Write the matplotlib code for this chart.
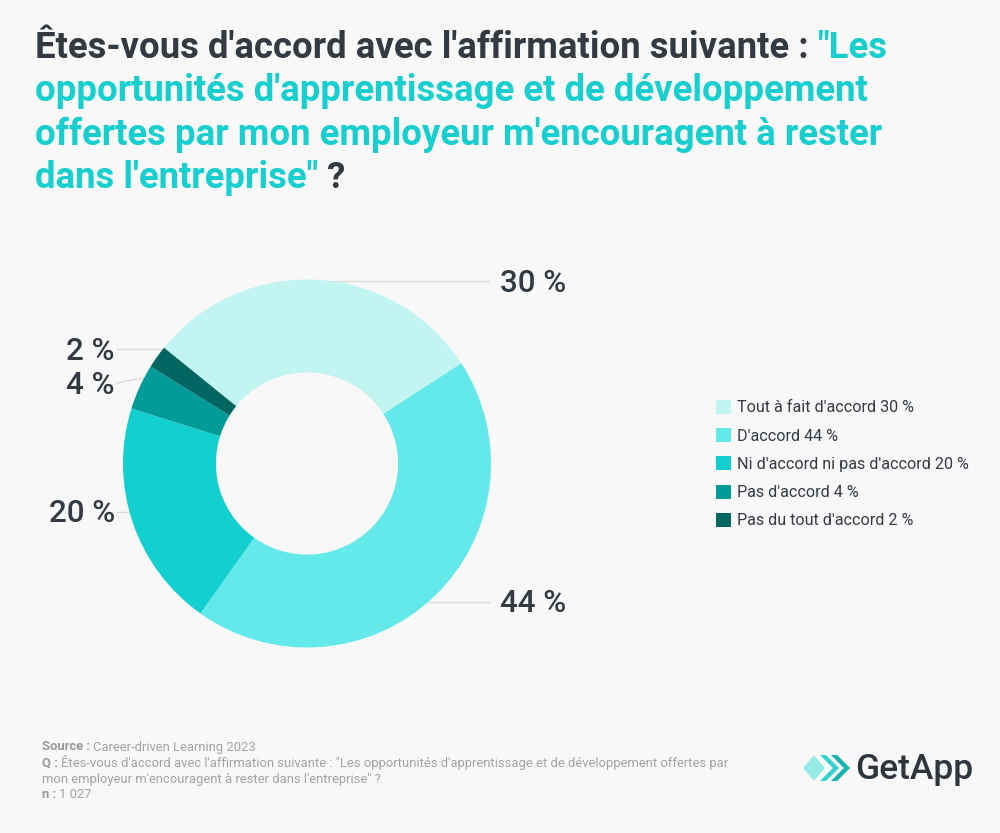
import matplotlib
matplotlib.use("Agg")
import matplotlib.pyplot as plt
from matplotlib.patches import Polygon, Patch
import numpy as np

# ---------------- data ----------------
categories = ["Tout à fait d'accord", "D'accord", "Ni d'accord ni pas d'accord",
              "Pas d'accord", "Pas du tout d'accord"]
values = [30, 44, 20, 4, 2]
colors = ["#C2F4F1", "#63E9E9", "#14CFCF", "#019B98", "#016662"]
value_labels = [f"{v} %" for v in values]
legend_labels = [f"{c} {v} %" for c, v in zip(categories, values)]

title_parts = [
    [("Êtes-vous d'accord avec l'affirmation suivante : ", "dark"), ('"Les', "teal")],
    [("opportunités d'apprentissage et de développement", "teal")],
    [("offertes par mon employeur m'encouragent à rester", "teal")],
    [('dans l\'entreprise"', "teal"), (" ?", "dark")],
]
footer_lines = [
    ("Source : ", "Career-driven Learning 2023"),
    ("Q : ", "Êtes-vous d'accord avec l'affirmation suivante : \"Les opportunités d'apprentissage et de développement offertes par"),
    ("", "mon employeur m'encouragent à rester dans l'entreprise\" ?"),
    ("n : ", "1 027"),
]

W, H = 1000, 833
BG = "#F8F8F8"
DARK = "#333A42"
TEAL = "#17CFCF"

plt.rcParams['font.family'] = ['Roboto', 'DejaVu Sans']
fig = plt.figure(figsize=(W / 100, H / 100), dpi=100, facecolor=BG)
renderer = fig.canvas.get_renderer()


def fx(x):
    return x / W


def fy(y):
    return 1 - y / H


# ---------------- title ----------------
title_baselines = [58, 101, 145, 188]
for parts, yb in zip(title_parts, title_baselines):
    x = 35
    for txt, col in parts:
        t = fig.text(fx(x), fy(yb), txt, fontsize=26.3, fontweight='bold',
                     color=DARK if col == "dark" else TEAL, va='baseline', ha='left')
        bb = t.get_window_extent(renderer=renderer)
        x += bb.width

# ---------------- donut ----------------
cx, cy, R = 307, 463.5, 184
half = 200
ax = fig.add_axes([fx(cx - half), fy(cy + half), 2 * half / W, 2 * half / H])
ax.set_facecolor("none")
startangle = 141
wedges, _ = ax.pie(values, colors=colors, startangle=startangle, counterclock=False,
                   radius=1.0, wedgeprops=dict(width=0.505, linewidth=0))
lim = half / R
ax.set_xlim(-lim, lim)
ax.set_ylim(-lim, lim)
ax.set_aspect('equal')
ax.axis('off')

# label layout (pixel): text x, text y, align, connector start y on ring, connector end y
label_pos = [(500, 283, 'left', 281, 281), (500, 604, 'left', 602, 602),
             (115, 514, 'right', 512, 512), (115, 386, 'right', 378, 383),
             (115, 351, 'right', 349, 349)]
for w, lab, (px, py, ha, ys, ye) in zip(wedges, value_labels, label_pos):
    ys_d = (cy - ys) / R
    xs_d = np.sqrt(max(1 - ys_d ** 2, 0)) * (1 if ha == 'left' else -1)
    xl = (px - cx) / R
    yl = (cy - py) / R
    xe = xl - 10 / R if ha == 'left' else xl + 1 / R
    ax.plot([xs_d, xe], [ys_d, (cy - ye) / R], color="#DADADA", lw=1,
            solid_capstyle='butt', zorder=0, clip_on=False)
    ax.text(xl, yl, lab, ha=ha, va='center', fontsize=22.5, color=DARK,
            fontweight='medium', clip_on=False)

# ---------------- legend ----------------
handles = [Patch(facecolor=c, edgecolor='none') for c in colors]
leg = fig.legend(handles, legend_labels, loc='upper left',
                 bbox_to_anchor=(fx(716), fy(400)), frameon=False,
                 fontsize=11.6, handlelength=0.95, handleheight=0.95,
                 handletextpad=0.37, labelspacing=0.79, borderpad=0, borderaxespad=0)
for t in leg.get_texts():
    t.set_color(DARK)

# ---------------- footer ----------------
footer_y = [747, 763, 779, 794]
for (b, r), yy in zip(footer_lines, footer_y):
    x = 42
    if b:
        t = fig.text(fx(x), fy(yy), b, fontsize=9.4, fontweight='bold', color="#999999",
                     va='center', ha='left')
        x += t.get_window_extent(renderer=renderer).width
    fig.text(fx(x), fy(yy), r, fontsize=9.4, color="#A3A3A3", va='center', ha='left')

# ---------------- logo ----------------
def poly(pts, color, alpha=1.0):
    fig.patches.append(Polygon([(fx(a), fy(b)) for a, b in pts], closed=True,
                               transform=fig.transFigure, facecolor=color,
                               edgecolor='none', alpha=alpha, figure=fig))

poly([(803, 768), (814, 755), (825, 768), (814, 781)], "#8EE9E4", 0.9)
poly([(820, 755), (826, 755), (839, 768), (826, 781), (820, 781), (833, 768)], "#34D3CD")
poly([(831, 755), (837, 755), (850, 768), (837, 781), (831, 781), (844, 768)], "#12B3AC")
fig.text(fx(855), fy(770), "GetApp", fontsize=25.5, fontweight='medium', color="#2F353D",
         va='center', ha='left')

fig.savefig("out.png", dpi=100, facecolor=BG)
